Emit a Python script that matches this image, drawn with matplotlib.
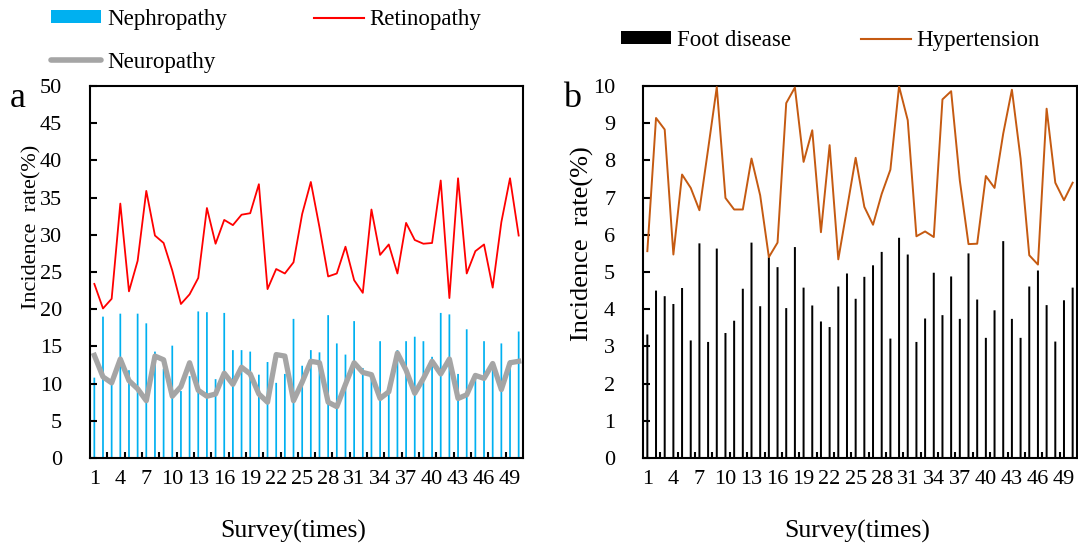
import matplotlib
matplotlib.use("Agg")
import matplotlib.pyplot as plt
from matplotlib.patches import Patch
from matplotlib.lines import Line2D
import numpy as np

plt.rcParams['font.family'] = ['Liberation Serif', 'DejaVu Serif']

# =========================
# DATA
# =========================
surveys = list(range(1, 51))

nephropathy = [10.8, 19.0, 10.2, 19.4, 11.8, 19.4, 18.1, 14.3, 12.0, 15.1,
               9.0, 11.0, 19.7, 19.6, 10.6, 19.5, 14.5, 14.5, 14.3, 11.2,
               12.9, 10.1, 11.3, 18.7, 12.4, 14.5, 14.2, 19.2, 15.4, 13.9,
               18.4, 12.1, 11.0, 15.7, 9.0, 14.5, 15.7, 16.3, 15.7, 13.6,
               19.5, 19.3, 11.3, 17.3, 11.0, 15.7, 12.0, 15.4, 13.1, 17.0]
retinopathy = [23.4, 20.1, 21.4, 34.2, 22.4, 26.5, 35.9, 29.9, 28.9, 25.2,
               20.7, 22.0, 24.2, 33.6, 28.8, 32.0, 31.3, 32.7, 32.9, 36.8,
               22.7, 25.4, 24.8, 26.3, 32.8, 37.1, 31.0, 24.4, 24.8, 28.4,
               23.9, 22.2, 33.4, 27.3, 28.7, 24.8, 31.6, 29.3, 28.8, 28.9,
               37.3, 21.5, 37.6, 24.8, 27.8, 28.7, 22.9, 31.7, 37.6, 29.9]
neuropathy = [13.8, 10.9, 10.1, 13.3, 10.4, 9.3, 7.7, 13.7, 13.2, 8.3,
              9.6, 12.8, 9.1, 8.3, 8.6, 11.4, 9.9, 12.2, 11.3, 8.6,
              7.5, 13.9, 13.7, 7.7, 10.2, 13.0, 12.8, 7.5, 6.9, 9.9,
              12.8, 11.5, 11.2, 8.0, 8.9, 14.1, 11.8, 8.7, 10.7, 13.0,
              11.3, 13.3, 8.0, 8.5, 11.1, 10.7, 12.7, 9.2, 12.8, 13.0]

foot_disease = [3.32, 4.50, 4.35, 4.14, 4.57, 3.16, 5.77, 3.12, 5.63, 3.36,
                3.69, 4.55, 5.79, 4.08, 5.40, 5.13, 4.03, 5.67, 4.58, 4.10,
                3.67, 3.52, 4.61, 4.96, 4.28, 4.87, 5.18, 5.54, 3.21, 5.92,
                5.47, 3.12, 3.75, 4.98, 3.84, 4.88, 3.74, 5.50, 4.26, 3.23,
                3.97, 5.83, 3.74, 3.23, 4.61, 5.04, 4.11, 3.13, 4.24, 4.58]
hypertension = [5.56, 9.14, 8.83, 5.47, 7.62, 7.26, 6.66, 8.30, 9.97, 6.99,
                6.68, 6.68, 8.05, 7.06, 5.40, 5.79, 9.54, 9.96, 7.96, 8.81,
                6.07, 8.41, 5.34, 6.70, 8.07, 6.75, 6.27, 7.10, 7.75, 9.99,
                9.08, 5.96, 6.09, 5.94, 9.64, 9.86, 7.46, 5.75, 5.76, 7.58,
                7.26, 8.72, 9.90, 8.05, 5.45, 5.20, 9.39, 7.40, 6.93, 7.40]

x_ticks = list(range(1, 50, 3))

BLUE = "#00B0F0"
RED = "#FF0000"
GRAY = "#A5A5A5"
ORANGE = "#C55A11"

W, H = 1078, 550
fig = plt.figure(figsize=(W / 100, H / 100), dpi=100)
ax_a = fig.add_axes([90 / W, 92 / H, 433 / W, 372 / H])
ax_b = fig.add_axes([643 / W, 92 / H, 434 / W, 372 / H])


def style_axis(ax, ymax, ystep):
    ax.set_xlim(0.5, 50.5)
    ax.set_ylim(0, ymax)
    ax.set_yticks(np.arange(0, ymax + 0.01, ystep))
    ax.set_xticks(x_ticks)
    ax.set_xticks(np.arange(2.5, 50, 2), minor=True)
    ax.tick_params(axis="x", which="major", length=0, pad=9, labelsize=16)
    ax.tick_params(axis="x", which="minor", direction="in", length=4, width=1.5)
    ax.tick_params(axis="y", direction="in", length=5, width=1.5, pad=20, labelsize=16)
    for s in ax.spines.values():
        s.set_linewidth(1.5)
    ax.set_xlabel("Survey(times)", fontsize=18.5)


# ---- panel a ----
ax_a.bar(surveys, nephropathy, width=0.2, color=BLUE, snap=False, zorder=1)
ax_a.plot(surveys, neuropathy, color=GRAY, lw=3.8, solid_joinstyle="round", zorder=2)
ax_a.plot(surveys, retinopathy, color=RED, lw=1.3, zorder=3)
style_axis(ax_a, 50, 5)
ax_a.set_ylabel("Incidence  rate(%)", fontsize=16)
ax_a.yaxis.set_label_coords(-0.113, 0.621)
ax_a.xaxis.set_label_coords(0.47, -0.167)

# ---- panel b ----
ax_b.bar(surveys, foot_disease, width=0.23, color="black", snap=False, zorder=1)
ax_b.plot(surveys, hypertension, color=ORANGE, lw=1.4, zorder=3)
style_axis(ax_b, 10, 1)
ax_b.set_ylabel("Incidence  rate(%)", fontsize=19)
ax_b.yaxis.set_label_coords(-0.113, 0.575)
ax_b.xaxis.set_label_coords(0.493, -0.167)

# ---- legends ----
leg_kw = dict(loc="upper left", ncol=2, frameon=False, borderpad=0,
              borderaxespad=0, handlelength=2.18, handleheight=0.5,
              handletextpad=0.26, fontsize=16.5)
fig.legend(handles=[Patch(facecolor=BLUE, label="Nephropathy"),
                    Line2D([], [], color=GRAY, lw=4, solid_capstyle="round", label="Neuropathy"),
                    Line2D([], [], color=RED, lw=1.5, label="Retinopathy")],
           bbox_to_anchor=(51 / W, 1 - 9 / H), columnspacing=3.8,
           labelspacing=0.95, **leg_kw)
fig.legend(handles=[Patch(facecolor="black", label="Foot disease"),
                    Line2D([], [], color=ORANGE, lw=1.5, label="Hypertension")],
           bbox_to_anchor=(621 / W, 1 - 30 / H), columnspacing=3.05, **leg_kw)

fig.text(10 / W, 1 - 107 / H, "a", fontsize=26, va="baseline")
fig.text(563 / W, 1 - 107 / H, "b", fontsize=26, va="baseline")

fig.savefig("out.png", dpi=100)
